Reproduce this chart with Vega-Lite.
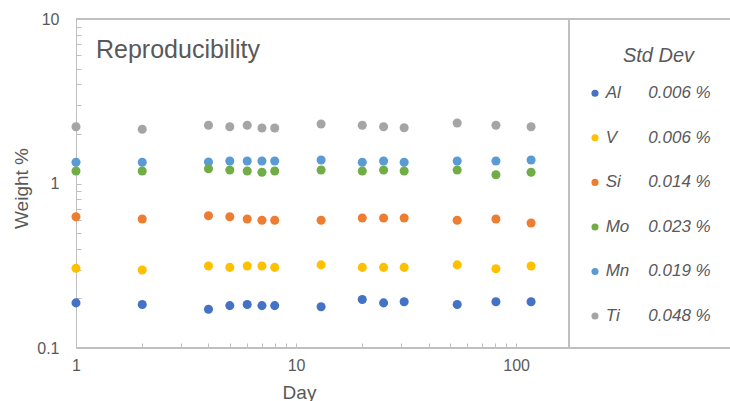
{
  "$schema": "https://vega.github.io/schema/vega-lite/v6.json",
  "width": 654,
  "height": 329,
  "autosize": {"type": "none"},
  "padding": {"left": 76, "top": 19, "right": 0, "bottom": 53},
  "background": "white",
  "config": {
    "font": "Liberation Sans",
    "view": {"stroke": null},
    "axis": {"grid": false, "domainColor": "#BFBFBF", "tickColor": "#BFBFBF", "labelColor": "#595959", "titleColor": "#595959", "titleFontWeight": "normal", "labelFontSize": 16, "titleFontSize": 19}
  },
  "title": {"text": "Reproducibility", "anchor": "start", "frame": "group", "dx": 20, "offset": -72, "baseline": "alphabetic", "fontSize": 25, "fontWeight": "normal", "color": "#595959"},
  "datasets": {
    "weights": [
      {"day": 1, "element": "Ti", "w": 2.214}, {"day": 2, "element": "Ti", "w": 2.135}, {"day": 4, "element": "Ti", "w": 2.258}, {"day": 5, "element": "Ti", "w": 2.214}, {"day": 6, "element": "Ti", "w": 2.258}, {"day": 7, "element": "Ti", "w": 2.175}, {"day": 8, "element": "Ti", "w": 2.175}, {"day": 13, "element": "Ti", "w": 2.3}, {"day": 20, "element": "Ti", "w": 2.258}, {"day": 25, "element": "Ti", "w": 2.214}, {"day": 31, "element": "Ti", "w": 2.184}, {"day": 54, "element": "Ti", "w": 2.332}, {"day": 81, "element": "Ti", "w": 2.258}, {"day": 117, "element": "Ti", "w": 2.214},
      {"day": 1, "element": "Mn", "w": 1.346}, {"day": 2, "element": "Mn", "w": 1.346}, {"day": 4, "element": "Mn", "w": 1.351}, {"day": 5, "element": "Mn", "w": 1.37}, {"day": 6, "element": "Mn", "w": 1.37}, {"day": 7, "element": "Mn", "w": 1.37}, {"day": 8, "element": "Mn", "w": 1.37}, {"day": 13, "element": "Mn", "w": 1.389}, {"day": 20, "element": "Mn", "w": 1.346}, {"day": 25, "element": "Mn", "w": 1.37}, {"day": 31, "element": "Mn", "w": 1.346}, {"day": 54, "element": "Mn", "w": 1.37}, {"day": 81, "element": "Mn", "w": 1.37}, {"day": 117, "element": "Mn", "w": 1.389},
      {"day": 1, "element": "Mo", "w": 1.191}, {"day": 2, "element": "Mo", "w": 1.191}, {"day": 4, "element": "Mo", "w": 1.23}, {"day": 5, "element": "Mo", "w": 1.208}, {"day": 6, "element": "Mo", "w": 1.191}, {"day": 7, "element": "Mo", "w": 1.17}, {"day": 8, "element": "Mo", "w": 1.191}, {"day": 13, "element": "Mo", "w": 1.208}, {"day": 20, "element": "Mo", "w": 1.191}, {"day": 25, "element": "Mo", "w": 1.208}, {"day": 31, "element": "Mo", "w": 1.191}, {"day": 54, "element": "Mo", "w": 1.208}, {"day": 81, "element": "Mo", "w": 1.131}, {"day": 117, "element": "Mo", "w": 1.17},
      {"day": 1, "element": "Si", "w": 0.628}, {"day": 2, "element": "Si", "w": 0.608}, {"day": 4, "element": "Si", "w": 0.637}, {"day": 5, "element": "Si", "w": 0.628}, {"day": 6, "element": "Si", "w": 0.608}, {"day": 7, "element": "Si", "w": 0.598}, {"day": 8, "element": "Si", "w": 0.598}, {"day": 13, "element": "Si", "w": 0.598}, {"day": 20, "element": "Si", "w": 0.617}, {"day": 25, "element": "Si", "w": 0.617}, {"day": 31, "element": "Si", "w": 0.617}, {"day": 54, "element": "Si", "w": 0.598}, {"day": 81, "element": "Si", "w": 0.608}, {"day": 117, "element": "Si", "w": 0.575},
      {"day": 1, "element": "V", "w": 0.305}, {"day": 2, "element": "V", "w": 0.298}, {"day": 4, "element": "V", "w": 0.315}, {"day": 5, "element": "V", "w": 0.309}, {"day": 6, "element": "V", "w": 0.315}, {"day": 7, "element": "V", "w": 0.315}, {"day": 8, "element": "V", "w": 0.309}, {"day": 13, "element": "V", "w": 0.32}, {"day": 20, "element": "V", "w": 0.309}, {"day": 25, "element": "V", "w": 0.309}, {"day": 31, "element": "V", "w": 0.309}, {"day": 54, "element": "V", "w": 0.32}, {"day": 81, "element": "V", "w": 0.303}, {"day": 117, "element": "V", "w": 0.315},
      {"day": 1, "element": "Al", "w": 0.188}, {"day": 2, "element": "Al", "w": 0.184}, {"day": 4, "element": "Al", "w": 0.172}, {"day": 5, "element": "Al", "w": 0.181}, {"day": 6, "element": "Al", "w": 0.184}, {"day": 7, "element": "Al", "w": 0.181}, {"day": 8, "element": "Al", "w": 0.181}, {"day": 13, "element": "Al", "w": 0.178}, {"day": 20, "element": "Al", "w": 0.197}, {"day": 25, "element": "Al", "w": 0.188}, {"day": 31, "element": "Al", "w": 0.191}, {"day": 54, "element": "Al", "w": 0.184}, {"day": 81, "element": "Al", "w": 0.191}, {"day": 117, "element": "Al", "w": 0.191}
    ],
    "stddev": [
      {"element": "Al", "sd": "0.006 %"},
      {"element": "V", "sd": "0.006 %"},
      {"element": "Si", "sd": "0.014 %"},
      {"element": "Mo", "sd": "0.023 %"},
      {"element": "Mn", "sd": "0.019 %"},
      {"element": "Ti", "sd": "0.048 %"}
    ]
  },
  "layer": [
    {
      "data": {"name": "weights"},
      "layer": [
        {
          "mark": {"type": "rule", "color": "#BFBFBF", "strokeWidth": 1},
          "encoding": {"y": {"datum": 10, "type": "quantitative"}}
        },
        {
          "mark": {"type": "rule", "color": "#BFBFBF", "strokeWidth": 1},
          "encoding": {"y": {"datum": 0.1, "type": "quantitative"}}
        },
        {
          "mark": {"type": "rule", "color": "#BFBFBF", "strokeWidth": 1},
          "encoding": {"x": {"datum": 174, "type": "quantitative"}}
        },
        {
          "mark": {"type": "circle", "size": 82, "opacity": 1},
          "encoding": {
            "x": {
              "field": "day", "type": "quantitative",
              "scale": {"type": "log", "domain": [1, 174], "range": [0, 493], "nice": false},
              "axis": {
                "orient": "bottom", "title": "Day", "values": [1,2,3,4,5,6,7,8,9,10,20,30,40,50,60,70,80,90,100],
                "format": "~g", "labelExpr": "(datum.value == 1 || datum.value == 10 || datum.value == 100) ? datum.label : ''",
                "tickSize": -5, "labelPadding": 14, "labelFlush": false, "labelOverlap": false,
                "titleX": 223, "titleY": 50, "titleBaseline": "alphabetic", "titleAnchor": null
              }
            },
            "y": {
              "field": "w", "type": "quantitative",
              "scale": {"type": "log", "domain": [0.1, 10], "nice": false},
              "axis": {
                "orient": "left", "title": "Weight %", "values": [0.1,0.2,0.3,0.4,0.5,0.6,0.7,0.8,0.9,1,2,3,4,5,6,7,8,9,10],
                "format": "~g", "labelExpr": "(datum.value == 0.1 || datum.value == 1 || datum.value == 10) ? datum.label : ''",
                "tickSize": -5, "labelPadding": 22, "labelOverlap": false, "labelFlush": false,
                "titleX": -55, "titleY": 169, "titleAngle": -90, "titleBaseline": "middle", "titleAlign": "center"
              }
            },
            "color": {
              "field": "element", "type": "nominal",
              "scale": {"domain": ["Al","V","Si","Mo","Mn","Ti"], "range": ["#4472C4","#FFC000","#ED7D31","#70AD47","#5B9BD5","#A5A5A5"]},
              "legend": null
            }
          }
        }
      ]
    },
    {
      "data": {"name": "stddev"},
      "encoding": {
        "y": {
          "field": "element", "type": "nominal", "sort": ["Al","V","Si","Mo","Mn","Ti"],
          "scale": {"type": "point", "range": [74.3, 297], "padding": 0},
          "axis": null
        }
      },
      "layer": [
        {
          "mark": {"type": "circle", "size": 50, "opacity": 1},
          "encoding": {
            "x": {
              "datum": 0.1615, "type": "quantitative",
              "scale": {"domain": [0, 1], "range": [493, 654], "nice": false, "zero": false},
              "axis": {
                "orient": "top", "title": "Std Dev", "ticks": false, "labels": false, "domain": false, "grid": false,
                "titleX": 582, "titleY": 36, "titleBaseline": "middle", "titleAlign": "center", "titleAngle": 0,
                "titleFontSize": 20, "titleFontStyle": "italic", "titleFontWeight": "normal", "titleColor": "#595959"
              }
            },
            "color": {"field": "element", "type": "nominal", "legend": null}
          }
        },
        {
          "mark": {"type": "text", "align": "left", "baseline": "middle", "fontSize": 17, "fontStyle": "italic", "color": "#595959"},
          "encoding": {
            "x": {"datum": 0.228, "type": "quantitative"},
            "text": {"field": "element"}
          }
        },
        {
          "mark": {"type": "text", "align": "left", "baseline": "middle", "fontSize": 17, "fontStyle": "italic", "color": "#595959"},
          "encoding": {
            "x": {"datum": 0.4925, "type": "quantitative"},
            "text": {"field": "sd"}
          }
        }
      ]
    }
  ],
  "resolve": {"scale": {"x": "independent", "y": "independent"}, "axis": {"x": "independent", "y": "independent"}}
}
